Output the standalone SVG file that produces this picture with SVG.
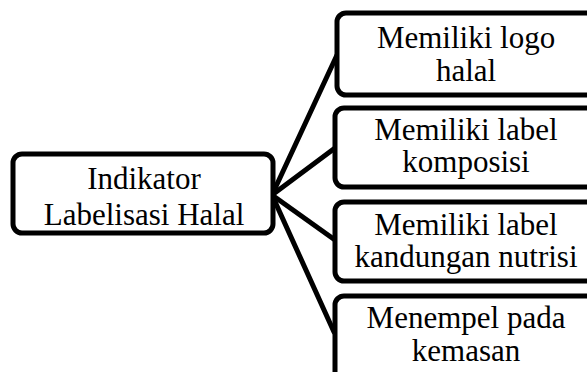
<svg xmlns="http://www.w3.org/2000/svg" width="587" height="372" viewBox="0 0 587 372">
  <style>
    .box { fill: #ffffff; stroke: #000000; stroke-width: 5; }
    .link { stroke: #000000; stroke-width: 5; fill: none; stroke-linecap: round; }
    text { font-family: 'Liberation Serif', 'Times New Roman', Times, serif; font-size: 31px; fill: #000000; text-anchor: middle; }
  </style>
  <rect width="587" height="372" fill="#ffffff"/>

  <g id="connectors">
    <line class="link" x1="272" y1="195" x2="337" y2="55"/>
    <line class="link" x1="272" y1="195" x2="335" y2="148"/>
    <line class="link" x1="272" y1="195" x2="335" y2="240"/>
    <line class="link" x1="272" y1="195" x2="334" y2="332"/>
  </g>

  <g id="indikator">
    <rect class="box" x="13" y="154" width="260" height="79" rx="9"/>
    <text x="144" y="189">Indikator</text>
    <text x="144" y="225">Labelisasi Halal</text>
  </g>

  <g id="logo-halal">
    <rect class="box" x="337" y="13" width="262" height="82" rx="9"/>
    <text x="466" y="48">Memiliki logo</text>
    <text x="466" y="81">halal</text>
  </g>

  <g id="label-komposisi">
    <rect class="box" x="335" y="108" width="264" height="79" rx="9"/>
    <text x="466" y="140">Memiliki label</text>
    <text x="466" y="172">komposisi</text>
  </g>

  <g id="label-nutrisi">
    <rect class="box" x="335" y="202" width="264" height="79" rx="9"/>
    <text x="466" y="235">Memiliki label</text>
    <text x="466" y="267">kandungan nutrisi</text>
  </g>

  <g id="menempel-kemasan">
    <rect class="box" x="335" y="296" width="264" height="90" rx="9"/>
    <text x="466" y="328">Menempel pada</text>
    <text x="466" y="361">kemasan</text>
  </g>
</svg>
